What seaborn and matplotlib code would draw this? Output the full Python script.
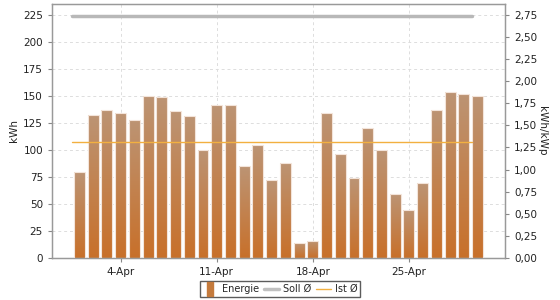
import numpy as np
import pandas as pd
import matplotlib
matplotlib.use("Agg")
import matplotlib.pyplot as plt
import seaborn as sns
from matplotlib.ticker import FuncFormatter
from matplotlib.lines import Line2D
from matplotlib.colors import LinearSegmentedColormap

days = [f"{d}-Apr" for d in range(1, 31)]
energie = [80, 132, 137, 134, 128, 150, 149, 136, 131, 100,
           142, 142, 85, 105, 72, 88, 14, 16, 134, 96,
           74, 120, 100, 59, 44, 69, 137, 154, 152, 150]
soll_avg = 2.74
ist_avg = 1.316
tick_labels = ["4-Apr", "11-Apr", "18-Apr", "25-Apr"]

sns.set_style("white")
plt.rcParams['font.family'] = ['DejaVu Sans']

fig = plt.figure(figsize=(5.6, 3.0), dpi=100)
ax = fig.add_axes([52/560, 1 - 258/300, (505-52)/560, (258-4)/300])

df = pd.DataFrame({"day": days, "kWh": energie})
sns.barplot(data=df, x="day", y="kWh", ax=ax, color="#c47a3c", width=0.8,
            edgecolor="#f3e4da", linewidth=0.8, zorder=3, saturation=1)

# gradient fill
grad = np.linspace(0, 1, 256).reshape(-1, 1)
cmap = LinearSegmentedColormap.from_list("g", ["#c8702a", "#bc9474"])
for p in ax.patches:
    x0 = p.get_x()
    w, h = p.get_width(), p.get_height()
    p.set_facecolor("none")
    im = ax.imshow(grad, extent=[x0, x0 + w, 0, h], origin="lower",
                   aspect="auto", cmap=cmap, zorder=2.5)
    im.set_clip_path(p)

ax.set_xlim(-2, 31)
ax.set_ylim(0, 235)
ax.set_yticks(range(0, 226, 25))
ax.set_xticks([days.index(t) for t in tick_labels])
ax.set_xticklabels(tick_labels)
ax.set_xlabel("")
ax.set_ylabel("kWh", fontsize=7.5, color="#222222", labelpad=3)
ax.grid(True, color="#dddddd", linestyle=(0, (3, 3)), linewidth=0.7, zorder=0)
ax.set_axisbelow(True)
ax.tick_params(axis="both", labelsize=7.5, length=3, color="#888888", colors="#222222")
ax.tick_params(axis="y", direction="out", left=True, length=3)
ax.tick_params(axis="x", bottom=True, length=3)
for s in ax.spines.values():
    s.set_color("#999999")
    s.set_linewidth(1)

ax2 = ax.twinx()
ax2.set_ylim(0, 235 / (225 / 2.75))
ax2.set_yticks(np.arange(0, 2.76, 0.25))
ax2.yaxis.set_major_formatter(FuncFormatter(lambda v, p: f"{v:.2f}".replace(".", ",")))
ax2.tick_params(axis="y", labelsize=7.5, length=3, color="#888888", colors="#222222", right=True)
ax2.set_ylabel("kWh/kWp", fontsize=7.5, rotation=270, labelpad=7, color="#222222")
for s in ax2.spines.values():
    s.set_color("#999999")

line_x = [-0.55, 28.6]
sns.lineplot(x=line_x, y=[soll_avg, soll_avg], ax=ax2, color="#b8b8b8", linewidth=2.5, zorder=4)
sns.lineplot(x=line_x, y=[ist_avg, ist_avg], ax=ax2, color="#f2b040", linewidth=1.0, zorder=4)
ax2.set_xlim(-2, 31)

bar_marker = [(-0.45, -1), (0.45, -1), (0.45, 1), (-0.45, 1), (-0.45, -1)]
handles = [Line2D([], [], marker=bar_marker, linestyle="none", markersize=10,
                  markerfacecolor="#c47a3c", markeredgecolor="#c47a3c"),
           Line2D([], [], color="#c0c0c0", linewidth=2.5),
           Line2D([], [], color="#f2b040", linewidth=1.0)]
fig.legend(handles, ["Energie", "Soll Ø", "Ist Ø"], loc="lower center",
           bbox_to_anchor=(0.5, 0.003), ncol=3, fontsize=7, frameon=True,
           fancybox=False, edgecolor="#333333", handlelength=1.6, handletextpad=0.35,
           columnspacing=0.5, borderpad=0.3, borderaxespad=0.2)

fig.savefig("out.png", dpi=100)
